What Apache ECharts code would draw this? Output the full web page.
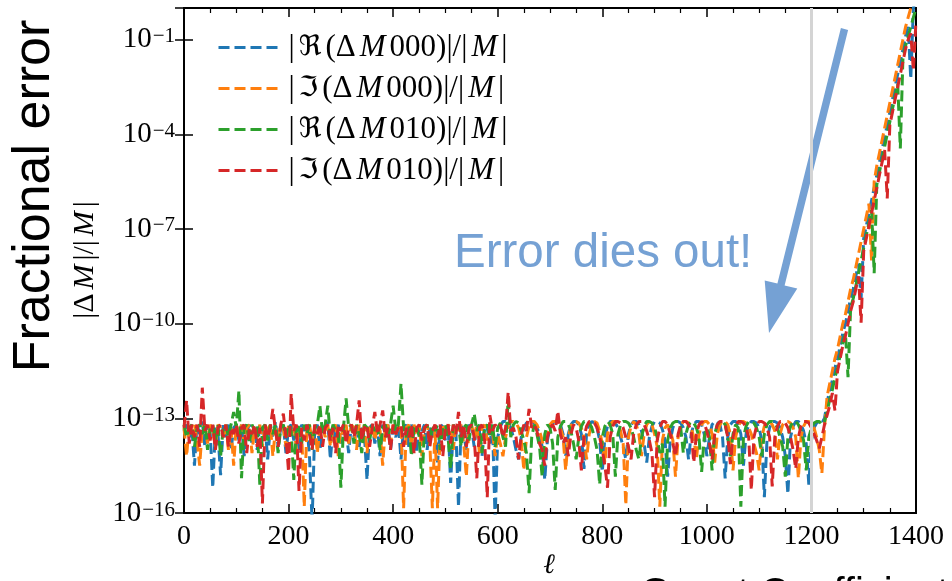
<!DOCTYPE html>
<html><head><meta charset="utf-8">
<script src="https://cdn.jsdelivr.net/npm/echarts@6/dist/echarts.min.js"></script>
<style>html,body{margin:0;padding:0;background:#fff}#c{width:952px;height:581px}</style>
</head><body><div id="c"></div>
<script>
// ℓ grid (step 5) and log10 of fractional error
const ellStep = 5, ellMax = 1400;
const seriesNames = ['|ℜ(ΔM000)|/|M|', '|ℑ(ΔM000)|/|M|', '|ℜ(ΔM010)|/|M|', '|ℑ(ΔM010)|/|M|'];
const seriesColors = ['#1f77b4', '#ff7f0e', '#2ca02c', '#d62728'];
const yTickExps = [-16, -13, -10, -7, -4, -1];
const xTicks = [0, 200, 400, 600, 800, 1000, 1200, 1400];

const reM000 = [
-13.4,-13.2,-13.6,-13.3,-14.5,-13.2,-13.5,-13.1,-13.9,-13.3,
-13.4,-15.2,-13.3,-13.5,-14.8,-13.2,-13.6,-13.2,-14.0,-13.3,
-13.2,-13.7,-13.2,-14.2,-13.4,-13.2,-13.8,-13.3,-14.0,-13.2,
-13.5,-13.2,-14.3,-13.3,-13.6,-13.1,-13.9,-13.3,-13.2,-14.1,
-13.3,-13.2,-13.7,-13.3,-14.0,-13.2,-13.4,-13.2,-14.2,-16.3,
-13.4,-13.2,-14.0,-13.3,-13.5,-13.1,-14.3,-13.3,-13.6,-13.2,
-13.8,-13.2,-13.4,-14.1,-13.2,-13.6,-13.2,-13.9,-13.3,-13.5,
-14.95,-13.3,-13.2,-13.8,-13.3,-14.2,-13.2,-13.5,-13.2,-14.0,
-13.3,-13.6,-13.2,-14.3,-13.3,-13.2,-13.9,-13.2,-13.5,-14.1,
-13.2,-13.4,-13.2,-14.0,-13.3,-13.6,-13.2,-14.4,-13.3,-13.2,
-13.7,-13.2,-15.05,-13.3,-13.4,-15.8,-13.2,-13.5,-14.0,-13.2,
-13.3,-13.9,-13.2,-13.4,-14.2,-13.2,-13.3,-13.8,-13.2,-16.2,
-13.6,-13.25,-13.1,-13.1,-13.15,-13.3,-13.6,-14.0,-14.3,-13.6,
-13.3,-13.15,-13.1,-13.1,-13.15,-13.3,-13.5,-13.9,-14.95,-13.7,
-13.3,-13.15,-13.1,-13.1,-13.2,-13.5,-14.2,-13.5,-13.2,-13.1,
-13.1,-13.2,-13.5,-14.6,-13.5,-13.2,-13.1,-13.15,-13.3,-13.7,
-14.7,-13.6,-13.25,-13.1,-13.1,-13.15,-13.3,-13.6,-13.9,-14.3,
-13.5,-13.2,-13.1,-13.1,-13.2,-13.4,-13.8,-14.4,-13.6,-13.25,
-13.1,-13.1,-13.15,-13.35,-13.7,-14.85,-13.7,-13.3,-13.1,-13.1,
-13.15,-13.3,-13.6,-14.3,-13.5,-13.2,-13.1,-13.1,-13.2,-13.5,
-14.2,-13.6,-13.2,-13.1,-13.1,-13.2,-13.6,-14.9,-13.6,-13.2,
-13.1,-13.1,-13.2,-13.5,-14.5,-13.5,-13.2,-13.1,-13.1,-13.15,
-13.3,-13.7,-15.5,-13.7,-13.3,-13.1,-13.1,-13.15,-13.3,-13.6,
-14.2,-15.4,-13.6,-13.25,-13.1,-13.1,-13.2,-13.4,-13.8,-15.1,
-13.7,-13.3,-13.15,-13.1,-13.15,-13.0,-12.5,-12.1,-11.8,-11.4,
-11.1,-10.7,-10.3,-10.0,-9.6,-9.2,-8.9,-8.5,-8.1,-9.2,
-7.3,-6.9,-6.5,-6.1,-5.7,-5.3,-4.9,-4.5,-4.1,-3.7,
-3.3,-2.9,-2.5,-2.1,-1.7,-1.3,-0.9,-0.6,-2.25,0.0,
0.3];

const imM000 = [
-13.3,-14.2,-13.2,-13.5,-13.2,-13.7,-14.5,-13.3,-13.2,-13.8,
-13.2,-13.4,-13.9,-13.2,-13.3,-13.6,-13.2,-14.0,-13.3,-14.5,
-13.2,-13.5,-13.2,-13.8,-13.3,-13.2,-14.1,-13.3,-13.5,-13.2,
-13.9,-13.2,-13.4,-13.2,-14.2,-13.3,-13.6,-13.2,-13.3,-13.9,
-13.2,-13.5,-13.2,-14.0,-13.3,-13.4,-15.8,-13.3,-13.2,-13.7,
-13.2,-14.1,-13.3,-13.2,-13.6,-13.2,-13.9,-13.3,-13.2,-14.2,
-13.3,-13.5,-13.2,-13.8,-13.2,-13.3,-14.0,-13.2,-13.6,-13.2,
-14.1,-13.3,-13.2,-13.7,-13.2,-13.4,-14.5,-13.3,-13.2,-13.8,
-13.2,-13.5,-13.3,-13.2,-15.85,-13.3,-13.2,-13.9,-13.2,-13.5,
-13.2,-14.2,-13.3,-13.2,-13.7,-15.85,-13.3,-15.85,-13.4,-13.2,
-13.6,-13.2,-13.3,-14.0,-13.2,-13.4,-13.2,-13.8,-14.85,-13.3,
-13.2,-13.6,-13.2,-14.1,-13.3,-13.2,-13.7,-13.2,-13.4,-14.2,
-13.5,-13.8,-14.2,-13.6,-13.25,-13.1,-13.1,-13.15,-13.3,-13.7,
-14.65,-13.6,-13.25,-13.1,-13.1,-13.2,-13.4,-13.7,-14.1,-13.5,
-13.2,-13.1,-13.1,-13.15,-13.3,-13.6,-14.65,-13.6,-13.25,-13.1,
-13.1,-13.15,-13.3,-13.6,-14.3,-13.5,-13.2,-13.1,-13.15,-13.4,
-13.8,-14.4,-13.5,-13.2,-13.1,-13.1,-13.2,-13.4,-13.8,-15.75,
-13.6,-13.25,-13.1,-13.2,-13.5,-14.2,-13.5,-13.2,-13.1,-13.2,
-13.5,-13.9,-15.8,-13.7,-13.3,-13.2,-13.4,-13.7,-14.85,-13.6,
-13.25,-13.1,-13.1,-13.15,-13.3,-13.6,-14.3,-13.5,-13.2,-13.1,
-13.1,-13.2,-13.5,-14.4,-13.5,-13.2,-13.1,-13.1,-13.2,-13.5,
-14.65,-13.6,-13.25,-13.1,-13.1,-13.15,-13.3,-13.5,-13.8,-14.1,
-14.65,-13.6,-13.25,-13.1,-13.1,-13.2,-13.4,-14.3,-13.5,-13.2,
-13.1,-13.1,-13.15,-13.3,-13.6,-14.9,-13.6,-13.25,-13.1,-13.1,
-13.15,-13.3,-13.6,-14.0,-14.75,-13.3,-12.3,-11.9,-11.5,-11.1,
-10.8,-10.4,-10.0,-9.7,-9.3,-8.9,-8.6,-8.2,-7.8,-7.4,
-7.0,-6.6,-6.2,-8.0,-5.5,-5.0,-4.6,-4.2,-3.8,-3.4,
-3.0,-2.6,-2.2,-1.8,-1.4,-1.0,-0.6,-0.3,0.0,0.3,
0.6];

const reM010 = [
-13.2,-13.6,-13.3,-13.2,-13.9,-13.3,-13.2,-13.5,-13.2,-14.0,
-13.3,-13.2,-13.7,-13.2,-14.2,-13.3,-13.2,-13.6,-13.2,-12.8,
-13.3,-12.12,-14.9,-13.3,-13.2,-13.8,-13.2,-13.4,-13.2,-15.1,
-13.3,-13.2,-13.7,-13.2,-13.5,-13.2,-14.1,-13.3,-13.2,-13.6,
-13.2,-13.4,-14.95,-13.2,-13.3,-13.8,-13.2,-13.5,-13.2,-14.0,
-13.3,-13.2,-12.6,-13.5,-13.2,-12.6,-13.6,-13.2,-13.4,-13.4,
-15.2,-13.3,-12.37,-13.3,-13.2,-13.8,-13.2,-13.5,-14.1,-13.2,
-13.3,-13.7,-13.2,-13.4,-13.2,-14.0,-13.3,-13.2,-13.6,-13.2,
-12.6,-13.4,-13.2,-11.9,-13.3,-13.6,-13.2,-14.2,-13.3,-13.2,
-13.6,-15.1,-13.3,-13.2,-13.8,-13.2,-13.4,-13.2,-14.0,-13.3,
-13.2,-13.6,-14.6,-13.2,-13.4,-13.2,-13.9,-13.3,-13.2,-13.7,
-13.2,-12.85,-13.4,-13.2,-14.1,-13.3,-13.2,-13.6,-13.2,-13.9,
-13.3,-13.15,-13.6,-13.9,-12.4,-13.6,-13.2,-13.1,-13.15,-13.4,
-13.7,-14.1,-15.37,-13.6,-13.2,-13.5,-13.9,-14.85,-13.5,-13.2,
-13.3,-13.8,-15.27,-13.6,-13.25,-13.1,-13.1,-13.2,-13.4,-13.8,
-14.3,-13.6,-13.25,-13.1,-13.1,-13.15,-13.3,-13.6,-14.0,-15.1,
-13.6,-13.25,-13.1,-13.2,-13.5,-14.85,-13.5,-13.2,-13.1,-13.1,
-13.15,-13.3,-13.6,-14.0,-14.3,-13.6,-13.25,-13.1,-13.1,-13.15,
-13.3,-13.6,-14.1,-13.8,-15.8,-13.7,-13.3,-13.15,-13.1,-13.1,
-13.3,-14.1,-13.5,-13.2,-13.1,-13.15,-13.3,-13.6,-14.7,-13.6,
-13.3,-13.6,-14.65,-13.5,-13.2,-13.1,-13.1,-13.2,-13.6,-14.2,
-13.5,-13.2,-13.3,-15.8,-13.6,-13.25,-13.1,-13.1,-13.15,-13.3,
-13.6,-14.2,-13.5,-13.2,-13.1,-13.1,-13.15,-13.3,-13.6,-13.9,
-14.85,-13.6,-13.25,-13.1,-13.1,-13.2,-13.4,-13.7,-14.65,-13.6,
-13.3,-13.15,-13.1,-13.1,-13.2,-13.1,-12.8,-12.4,-12.1,-11.7,
-11.4,-11.0,-10.6,-10.3,-11.7,-9.5,-9.2,-8.8,-8.4,-8.0,
-7.6,-7.2,-6.8,-6.4,-8.4,-5.6,-5.2,-4.8,-4.4,-4.0,
-3.6,-3.2,-2.8,-2.4,-4.45,-1.6,-1.2,-0.9,-0.6,-0.3,
0.0];

const imM010 = [
-13.3,-12.43,-13.8,-13.2,-13.6,-13.2,-13.9,-12.03,-13.4,-13.2,
-13.7,-13.2,-14.0,-13.3,-13.2,-13.6,-13.2,-13.9,-13.3,-13.5,
-13.2,-13.8,-13.3,-13.2,-14.1,-13.3,-13.5,-13.2,-13.9,-13.3,
-15.7,-13.2,-13.6,-13.3,-12.7,-13.4,-13.9,-13.2,-12.85,-13.6,
-14.7,-12.22,-13.4,-13.2,-15.3,-13.3,-13.7,-13.2,-13.5,-14.0,
-13.2,-13.5,-13.2,-13.9,-13.3,-13.2,-13.7,-13.3,-14.1,-13.2,
-13.4,-13.2,-13.8,-13.3,-13.2,-13.6,-13.2,-12.43,-13.7,-13.3,
-13.2,-13.9,-13.3,-12.8,-13.5,-13.2,-12.75,-13.6,-13.3,-14.0,
-13.2,-13.5,-13.3,-13.2,-13.9,-13.3,-13.6,-13.2,-14.1,-13.3,
-13.2,-13.7,-13.3,-13.2,-13.9,-13.4,-13.2,-13.6,-13.2,-14.2,
-13.3,-13.2,-13.8,-13.2,-13.5,-12.8,-13.6,-13.2,-13.9,-13.3,
-13.2,-13.6,-14.9,-13.3,-13.2,-13.7,-15.5,-12.9,-13.4,-13.2,
-13.3,-13.2,-13.6,-13.3,-12.17,-13.4,-13.3,-13.6,-14.3,-13.5,
-13.2,-13.4,-12.7,-13.3,-13.2,-13.4,-13.8,-14.0,-14.5,-13.6,
-13.3,-13.2,-13.4,-12.77,-13.5,-13.8,-13.6,-14.2,-13.5,-13.2,
-13.3,-13.7,-14.65,-13.6,-13.25,-13.1,-13.1,-13.15,-13.3,-13.6,
-14.0,-14.5,-15.2,-13.6,-13.25,-13.1,-13.1,-13.15,-13.3,-13.6,
-13.9,-14.3,-13.5,-13.2,-13.1,-13.1,-13.2,-13.4,-13.7,-14.1,
-15.5,-13.7,-13.3,-13.1,-13.1,-13.2,-13.5,-13.8,-14.2,-13.5,
-13.2,-13.1,-13.1,-13.2,-13.4,-14.4,-13.5,-13.2,-13.1,-13.15,
-13.4,-13.8,-14.3,-13.5,-13.2,-13.1,-13.1,-13.2,-13.6,-14.45,
-13.6,-13.25,-13.1,-13.1,-13.15,-13.3,-13.6,-15.27,-13.6,-13.25,
-13.1,-13.1,-13.15,-13.3,-13.6,-15.16,-13.6,-13.25,-13.1,-13.1,
-13.15,-13.3,-13.6,-14.0,-14.6,-13.6,-13.25,-13.1,-13.1,-13.15,
-13.3,-13.5,-13.7,-13.95,-13.6,-13.2,-12.9,-12.6,-12.2,-12.75,
-11.5,-11.1,-10.7,-10.4,-10.0,-9.6,-9.3,-8.9,-8.5,-9.97,
-7.7,-7.3,-6.9,-6.5,-6.1,-5.7,-5.3,-4.9,-4.5,-6.03,
-3.7,-3.3,-2.9,-2.5,-2.1,-1.7,-1.3,-1.0,-0.8,-1.98,
-0.4];

const seriesExps = [reM000, imM000, reM010, imM010];
const ells = [];
for (let l = 0; l <= ellMax; l += ellStep) ells.push(l);

const SERIF = '"Liberation Serif", "DejaVu Serif", serif';
const FRAK = '"DejaVu Serif", "DejaVu Sans", serif';
const SANS = '"Liberation Sans", Arial, sans-serif';
const ACCENT = '#75a1d4';
const DASH = [11, 5];

function toRich(s) {
  let out = '', cur = null, buf = '';
  const cls = ch => (ch === 'ℜ' || ch === 'ℑ') ? 'f' : (ch === 'M' ? 'i' : 'n');
  for (const ch of s) {
    const c = cls(ch);
    if (c !== cur) { if (buf) out += '{' + cur + '|' + buf + '}'; cur = c; buf = ''; }
    buf += ch;
  }
  if (buf) out += '{' + cur + '|' + buf + '}';
  return out;
}
const mathRich = (size, pad) => ({
  n: { fontFamily: SERIF, fontSize: size, lineHeight: size + 2, color: '#000', padding: [0, pad, 0, pad] },
  i: { fontFamily: SERIF, fontSize: size, fontStyle: 'italic', lineHeight: size + 2, color: '#000', padding: [0, pad, 0, pad] },
  f: { fontFamily: FRAK, fontSize: size - 3, lineHeight: size + 2, color: '#000', padding: [0, pad, 0, pad] }
});

const chart = echarts.init(document.getElementById('c'), null, { renderer: 'canvas' });

const series = seriesNames.map((name, k) => {
  const s = {
    name, type: 'line', symbol: 'none', showSymbol: false, clip: true,
    data: seriesExps[k].map((e, i) => [ells[i], Math.pow(10, e)]),
    lineStyle: { color: seriesColors[k], width: 3, type: DASH },
    itemStyle: { color: seriesColors[k] },
    emphasis: { disabled: true }, silent: true
  };
  if (k === 0) {
    s.markLine = {
      silent: true, symbol: 'none', animation: false,
      label: { show: false },
      lineStyle: { color: '#d4d4d4', width: 3, type: 'solid' },
      data: [{ xAxis: 1200 }]
    };
  }
  return s;
});

const xCommon = {
  type: 'value', min: 0, max: 1400, interval: 200,
  axisLine: { show: false }, splitLine: { show: false },
  axisTick: { show: true, inside: true, length: 9, lineStyle: { color: '#000', width: 1.5 } },
  minorTick: { show: true, splitNumber: 4, length: 5, lineStyle: { color: '#000', width: 1.2 } },
  minorSplitLine: { show: false }
};
const yCommon = {
  type: 'log', logBase: 10, min: 1e-16, max: 1, interval: 3,
  axisLine: { show: false }, splitLine: { show: false },
  axisTick: { show: true, inside: true, length: 9, lineStyle: { color: '#000', width: 1.5 } },
  minorTick: { show: false }
};

const option = {
  animation: false,
  backgroundColor: '#fff',
  grid: { left: 184, top: 8, right: 36, bottom: 68, show: true, borderColor: '#000', borderWidth: 2, backgroundColor: 'transparent' },
  legend: {
    orient: 'vertical', left: 212, top: 27, itemWidth: 61, itemHeight: 14, itemGap: 10,
    data: seriesNames, selectedMode: false,
    itemStyle: { opacity: 0, borderWidth: 0 },
    lineStyle: { width: 3, type: DASH },
    formatter: name => toRich(name),
    textStyle: { rich: mathRich(31, 2), padding: [0, 0, 0, 2] }
  },
  xAxis: [
    Object.assign({}, xCommon, {
      position: 'bottom',
      axisLabel: { show: true, margin: 10, fontFamily: SERIF, fontSize: 28, color: '#000', formatter: v => String(v) }
    }),
    Object.assign({}, xCommon, { position: 'top', axisLabel: { show: false } })
  ],
  yAxis: [
    Object.assign({}, yCommon, {
      position: 'left',
      axisLabel: {
        show: true, margin: 9, color: '#000',
        formatter: v => {
          const k = Math.round(Math.log10(v));
          if (yTickExps.indexOf(k) < 0) return '';
          return '{b|10}{e|−' + (-k) + '}';
        },
        rich: {
          b: { fontFamily: SERIF, fontSize: 29, lineHeight: 29, padding: [7, 0, 0, 0], verticalAlign: 'bottom', color: '#000' },
          e: { fontFamily: SERIF, fontSize: 21, lineHeight: 21, padding: [1, 0, 0, 1], verticalAlign: 'top', color: '#000' }
        }
      }
    }),
    Object.assign({}, yCommon, { position: 'right', axisLabel: { show: false } })
  ],
  series,
  graphic: [
    { type: 'text', x: 35, y: 196, rotation: Math.PI / 2,
      style: { text: 'Fractional error', fontFamily: SANS, fontSize: 52, fill: '#000', align: 'center', verticalAlign: 'middle' } },
    { type: 'text', x: 85, y: 260, rotation: Math.PI / 2,
      style: { text: toRich('|ΔM|/|M|'), rich: mathRich(30, 2), align: 'center', verticalAlign: 'middle' } },
    { type: 'text', x: 549, y: 566,
      style: { text: 'ℓ', fontFamily: SERIF, fontStyle: 'italic', fontSize: 28, fill: '#000', align: 'center', verticalAlign: 'middle' } },
    { type: 'text', x: 454, y: 254,
      style: { text: 'Error dies out!', fontFamily: SANS, fontSize: 47.5, fill: ACCENT, align: 'left', verticalAlign: 'middle' } },
    { type: 'polygon', silent: true,
      shape: { points: [[840.9, 28.1], [777.4, 283.6], [764.7, 280.5], [769, 333], [797.3, 288.5], [784.6, 285.4], [848.1, 29.9]] },
      style: { fill: ACCENT } },
    { type: 'text', x: 640, y: 595,
      style: { text: 'Gaunt Coefficients', fontFamily: SANS, fontSize: 40, fill: '#000', align: 'left', verticalAlign: 'middle' } }
  ]
};
chart.setOption(option);
</script>
</body></html>
